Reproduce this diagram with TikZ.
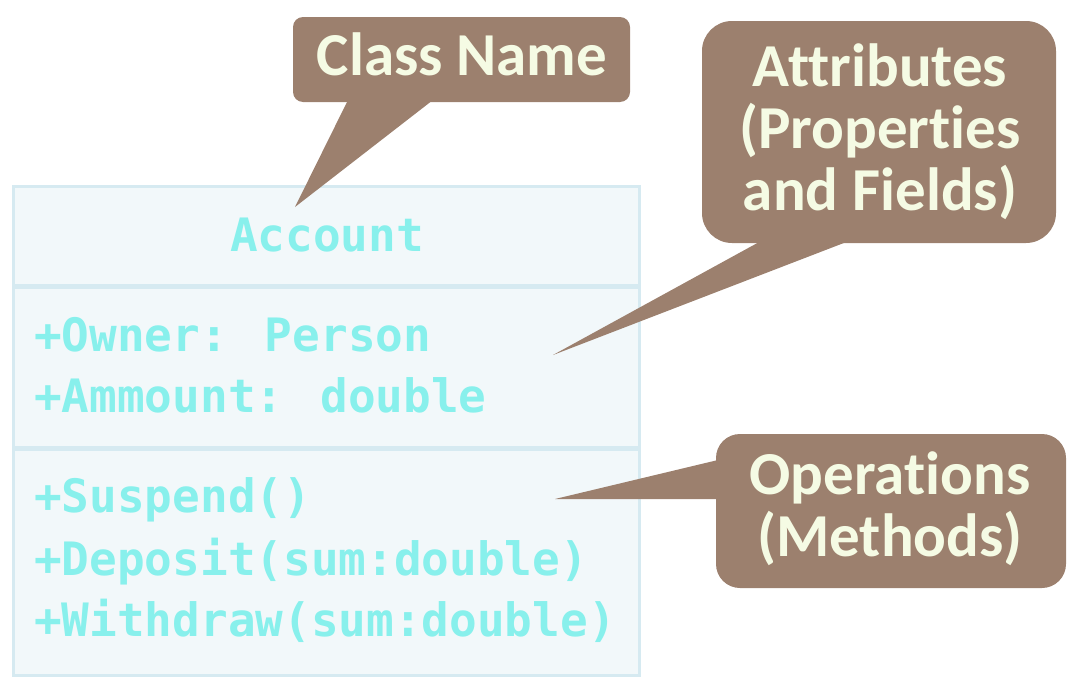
\documentclass[tikz,border=0pt]{standalone}
\usepackage{fontspec}
\newfontfamily\monofont{DejaVu Sans Mono}
\newfontfamily\callfont{Carlito}[RawFeature={-liga;-clig;-dlig;-rlig;-calt}]
\definecolor{boxfill}{HTML}{F2F8FA}
\definecolor{boxline}{HTML}{D6EAF1}
\definecolor{cyantext}{HTML}{88F0EC}
\definecolor{callbrown}{HTML}{9C806E}
\definecolor{calltext}{HTML}{F5FBE4}
\tikzset{
  comp/.style={draw=boxline, line width=3pt, fill=boxfill},
  member/.style={anchor=base west, inner sep=0pt, text=cyantext, font=\monofont\bfseries\fontsize{46}{54}\selectfont},
  callout/.style={fill=callbrown},
  calllabel/.style={anchor=base, inner sep=0pt, text=calltext, font=\callfont\bfseries\fontsize{61}{62}\selectfont, align=center},
}
\begin{document}
\begin{tikzpicture}[x=1pt,y=-1pt]
\useasboundingbox (0,0) rectangle (1072,688);
% class box compartments
\draw[comp] (13,186) rectangle (639,285);
\draw[comp] (13,287) rectangle (639,447);
\draw[comp] (13,449) rectangle (639,675);
\node[member, anchor=base] (cname) at (327,251) {Account};
\node[member] (a1) at (34,351) {+Owner: Person};
\node[member] (a2) at (34,412) {+Ammount: double};
\node[member] (m1) at (34,512) {+Suspend()};
\node[member] (m2) at (34,575) {+Deposit(sum:double)};
\node[member] (m3) at (34,636) {+Withdraw(sum:double)};
% callout tips
\coordinate (tipname) at (295,207);
\coordinate (tipattr) at (553,355);
\coordinate (tipops) at (555,499);
% Class Name callout
\fill[callout, rounded corners=10pt] (293,17) rectangle (630,102);
\fill[callout] (348,100) -- (433,100) -- (tipname) -- cycle;
\node[calllabel] (lname) at (462,75) {Class Name};
% Attributes callout
\fill[callout, rounded corners=30pt] (702,21) rectangle (1056,243);
\fill[callout] (761,241) -- (849,241) -- (tipattr) -- cycle;
\node[calllabel] (lattr) at (880,210) {Attributes\\(Properties\\and Fields)};
% Operations callout
\fill[callout, rounded corners=24pt] (716,434) rectangle (1066,588);
\fill[callout] (718,460) -- (718,499) -- (tipops) -- cycle;
\node[calllabel] (lops) at (890,556) {Operations\\(Methods)};
\end{tikzpicture}
\end{document}
